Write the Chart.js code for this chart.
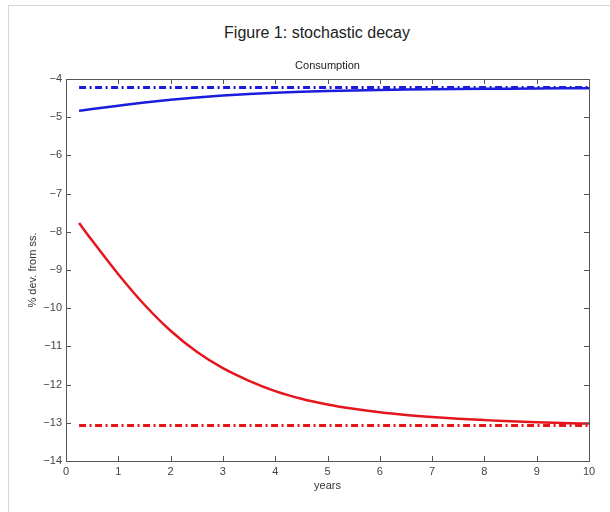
<!DOCTYPE html>
<html>
<head>
<meta charset="utf-8">
<title>Figure 1: stochastic decay</title>
<script src="https://cdn.jsdelivr.net/npm/chart.js@4.4.0/dist/chart.umd.min.js"></script>
<style>
  html, body { margin: 0; padding: 0; background: #fff; }
  body { width: 610px; height: 512px; position: relative; overflow: hidden; font-family: "Liberation Sans", Arial, sans-serif; }
  .frame { position: absolute; left: 8px; top: 5px; width: 640px; height: 540px; border-left: 1px solid #d6d6d6; border-top: 1px solid #d6d6d6; }
  .fig-title { position: absolute; left: 8px; width: 618px; top: 23px; line-height: 20px; text-align: center; font-size: 16px; color: #222; }
  #wrap { position: absolute; left: 0; top: 0; width: 610px; height: 512px; }
</style>
</head>
<body>
<div class="frame"></div>
<div class="fig-title">Figure 1: stochastic decay</div>
<div id="wrap"><canvas id="chart"></canvas></div>
<script>
// values (years after the shock, % deviation from steady state)
const years = [0.25, 0.5, 1, 1.5, 2, 2.5, 3, 3.5, 4, 4.5, 5, 5.5, 6, 6.5, 7, 7.5, 8, 8.5, 9, 9.5, 10];
const blueConsumption = [-4.83, -4.786, -4.70, -4.617, -4.545, -4.483, -4.432, -4.392, -4.36, -4.335, -4.315, -4.30, -4.288, -4.278, -4.27, -4.263, -4.257, -4.252, -4.248, -4.245, -4.242];
const redConsumption = [-7.77, -8.23, -9.11, -9.91, -10.59, -11.14, -11.57, -11.90, -12.17, -12.37, -12.52, -12.635, -12.725, -12.795, -12.85, -12.895, -12.93, -12.96, -12.985, -13.005, -13.02];

const steadyYears = [0.25, 10];
const blueSteady = [-4.22, -4.22];
const redSteady = [-13.07, -13.07];

const xTicks = [0, 1, 2, 3, 4, 5, 6, 7, 8, 9, 10];
const yTicks = [-14, -13, -12, -11, -10, -9, -8, -7, -6, -5, -4];

const BLUE = "#1c1cdc";
const RED = "#e4161c";
const FONT = '"Liberation Sans", Arial, sans-serif';

function toPoints(xs, ys) {
  return xs.map((x, i) => ({ x: x, y: ys[i] }));
}

// MATLAB-style box with inward ticks, plus the axes title
const axesBox = {
  id: "axesBox",
  afterDraw(chart) {
    const { ctx, chartArea: a, scales } = chart;
    ctx.save();
    ctx.strokeStyle = "#555";
    ctx.lineWidth = 1;
    ctx.strokeRect(a.left + 0.5, a.top + 0.5, a.right - a.left, a.bottom - a.top);
    ctx.beginPath();
    xTicks.forEach(v => {
      const px = Math.round(scales.x.getPixelForValue(v)) + 0.5;
      ctx.moveTo(px, a.bottom); ctx.lineTo(px, a.bottom - 5);
      ctx.moveTo(px, a.top); ctx.lineTo(px, a.top + 5);
    });
    yTicks.forEach(v => {
      const py = Math.round(scales.y.getPixelForValue(v)) + 0.5;
      ctx.moveTo(a.left, py); ctx.lineTo(a.left + 5, py);
      ctx.moveTo(a.right, py); ctx.lineTo(a.right - 5, py);
    });
    ctx.stroke();
    ctx.fillStyle = "#222";
    ctx.font = "11px " + FONT;
    ctx.textAlign = "center";
    ctx.textBaseline = "middle";
    ctx.fillText("Consumption", (a.left + a.right) / 2, a.top - 13);
    ctx.restore();
  }
};

const minus = v => String(v).replace("-", "\u2212");

new Chart(document.getElementById("chart"), {
  type: "line",
  data: {
    datasets: [
      {
        label: "blue steady",
        data: toPoints(steadyYears, blueSteady),
        borderColor: BLUE,
        borderWidth: 3,
        borderDash: [7, 3.5, 2, 3.5]
      },
      {
        label: "blue",
        data: toPoints(years, blueConsumption),
        borderColor: BLUE,
        borderWidth: 2.5,
        cubicInterpolationMode: "monotone"
      },
      {
        label: "red steady",
        data: toPoints(steadyYears, redSteady),
        borderColor: RED,
        borderWidth: 3,
        borderDash: [7, 3.5, 2, 3.5]
      },
      {
        label: "red",
        data: toPoints(years, redConsumption),
        borderColor: RED,
        borderWidth: 2.5,
        cubicInterpolationMode: "monotone"
      }
    ]
  },
  options: {
    responsive: true,
    maintainAspectRatio: false,
    animation: false,
    layout: { padding: { top: 79, right: 21, left: 0, bottom: 0 } },
    elements: { point: { radius: 0 } },
    plugins: {
      legend: { display: false },
      tooltip: { enabled: false }
    },
    scales: {
      x: {
        type: "linear",
        min: 0,
        max: 10,
        afterFit: s => { s.height = 51; },
        afterBuildTicks: s => { s.ticks = xTicks.map(v => ({ value: v })); },
        grid: { display: false, drawTicks: false },
        border: { display: false },
        ticks: { padding: 4, color: "#444", font: { family: FONT, size: 11 }, maxRotation: 0 },
        title: { display: true, text: "years", color: "#333", font: { family: FONT, size: 11 }, padding: { top: 0, bottom: 19.4 } }
      },
      y: {
        min: -14,
        max: -4,
        afterFit: s => { s.width = 66; },
        afterBuildTicks: s => { s.ticks = yTicks.map(v => ({ value: v })); },
        grid: { display: false, drawTicks: false },
        border: { display: false },
        ticks: { padding: 4, color: "#444", font: { family: FONT, size: 11 }, callback: minus },
        title: { display: true, text: "% dev. from ss.", color: "#333", font: { family: FONT, size: 11 }, padding: { top: 26.4, bottom: 0 } }
      }
    }
  },
  plugins: [axesBox]
});
</script>
</body>
</html>
